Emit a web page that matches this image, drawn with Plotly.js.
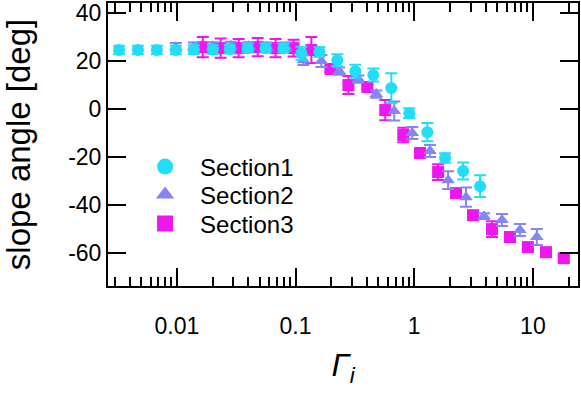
<!DOCTYPE html>
<html>
<head>
<meta charset="utf-8">
<script src="https://cdn.plot.ly/plotly-3.0.1.min.js"></script>
<style>
  html, body { margin: 0; padding: 0; background: #fff; }
  #chart { width: 581px; height: 393px; }
</style>
</head>
<body>
<div id="chart"></div>
<script>
// slope angle vs Gamma_i, three sections
const s1x = [0.00326, 0.0047, 0.00679, 0.00981, 0.0139, 0.0201, 0.0279, 0.0395, 0.056, 0.0793, 0.112,
             0.159, 0.225, 0.319, 0.452, 0.641, 0.908, 1.29, 1.82, 2.58, 3.59];
const s1y = [24.6, 24.6, 24.6, 24.6, 24.8, 24.8, 25.0, 25.4, 25.4, 25.4, 23.3,
             23.8, 20.4, 15.8, 14.2, 8.75, -1.7, -9.6, -20.4, -25.8, -32.1];
const s1e = [1.8, 1.8, 1.8, 1.8, 1.8, 1.8, 1.8, 1.8, 1.8, 1.8, 2.7,
             2.0, 2.5, 2.7, 2.7, 6.2, 2.0, 3.8, 2.0, 3.5, 4.5];

const s2x = [0.00981, 0.0139, 0.0201, 0.0284, 0.0403, 0.0571, 0.0824, 0.1167, 0.165, 0.234, 0.338,
             0.479, 0.679, 0.962, 1.36, 1.93, 2.73, 3.87, 5.49, 7.78, 10.8];
const s2y = [25.8, 26.0, 26.2, 26.4, 26.2, 26.0, 26.0, 20.4, 20.0, 15.8, 12.5,
             6.25, -0.8, -10.0, -17.5, -29.6, -36.7, -44.6, -46.25, -50.4, -53.3];
const s2e = [1.7, 1.7, 1.7, 1.7, 1.7, 1.7, 1.7, 2.0, 2.5, 1.5, 1.5,
             1.5, 4.0, 2.5, 2.5, 3.7, 4.0, 1.2, 2.5, 2.5, 3.3];

const s3x = [0.01654, 0.0234, 0.0332, 0.048, 0.0679, 0.0962, 0.136, 0.197, 0.279, 0.403, 0.570,
             0.809, 1.12, 1.59, 2.25, 3.13, 4.52, 6.41, 9.07, 12.9, 18.2];
const s3y = [25.8, 25.4, 25.4, 25.8, 25.4, 25.4, 24.6, 16.7, 10.0, 9.2, -0.4,
             -10.8, -18.3, -26.25, -35.0, -44.2, -50.0, -53.3, -57.5, -59.6, -62.1];
const s3e = [4.2, 4.0, 3.8, 3.8, 3.8, 3.5, 5.4, 1.2, 3.75, 1.0, 4.2,
             3.0, 1.5, 3.3, 1.2, 1.2, 3.3, 1.0, 1.0, 1.0, 1.0];

const yTicks = [-60, -40, -20, 0, 20, 40];
const yTickText = ["-60", "-40", "-20", "0", "20", "40"];

const names = ["Section1", "Section2", "Section3"];
const colors = ["#22DDF8", "#8585F5", "#EE15EE"];
const symbols = ["circle", "triangle-up", "square"];
const FONT = "Liberation Sans, Arial, sans-serif";

const series = [[s1x, s1y, s1e], [s2x, s2y, s2e], [s3x, s3y, s3e]];

// draw section3 first so section1 sits on top
const traces = [2, 1, 0].map(i => ({
  type: "scatter", mode: "markers",
  x: series[i][0], y: series[i][1],
  name: names[i], showlegend: false,
  marker: { symbol: symbols[i], size: 12, color: colors[i] },
  error_y: { type: "data", array: series[i][2], color: colors[i], thickness: 2, width: 6 },
}));

// one legend per entry so the rows can sit tight like the original
const legendIds = ["legend", "legend2", "legend3"];
const legendY = [0.4205, 0.3216, 0.219];
const legendTraces = [0, 1, 2].map(i => ({
  type: "scatter", mode: "markers",
  x: [null], y: [null], name: names[i], legend: legendIds[i],
  marker: { symbol: symbols[i], size: 16, color: colors[i] },
}));

const axisBase = {
  showline: true, linecolor: "black", linewidth: 2, mirror: "ticks",
  ticks: "inside", ticklen: 18, tickwidth: 2, tickcolor: "black",
  showgrid: false, zeroline: false,
  tickfont: { family: FONT, size: 23, color: "black" },
};

const layout = {
  width: 581, height: 393,
  margin: { l: 108, r: 3, t: 3, b: 107 },
  paper_bgcolor: "white", plot_bgcolor: "white",
  font: { family: FONT, color: "black" },
  showlegend: true,
  xaxis: {
    ...axisBase, type: "log", range: [-2.58, 1.38], dtick: 1,
    ticklabelstandoff: 18,
    minor: { ticks: "inside", ticklen: 9, tickwidth: 2, tickcolor: "black", dtick: "D1", showgrid: false },
    title: { text: "<i>Γ</i><sub><i>i</i></sub>", font: { family: FONT, size: 32 }, standoff: 16 },
  },
  yaxis: {
    ...axisBase, range: [-73.7, 44.2], tickmode: "array", tickvals: yTicks, ticktext: yTickText,
    title: { text: "slope angle [deg]", font: { family: FONT, size: 33 }, standoff: 30 },
  },
};
legendIds.forEach((id, i) => {
  layout[id] = {
    x: 0.047, y: legendY[i], xanchor: "left", yanchor: "middle", itemwidth: 60,
    bgcolor: "rgba(0,0,0,0)", font: { family: FONT, size: 24, color: "black" },
  };
});

Plotly.newPlot("chart", traces.concat(legendTraces), layout, { displayModeBar: false, staticPlot: true });
</script>
</body>
</html>
